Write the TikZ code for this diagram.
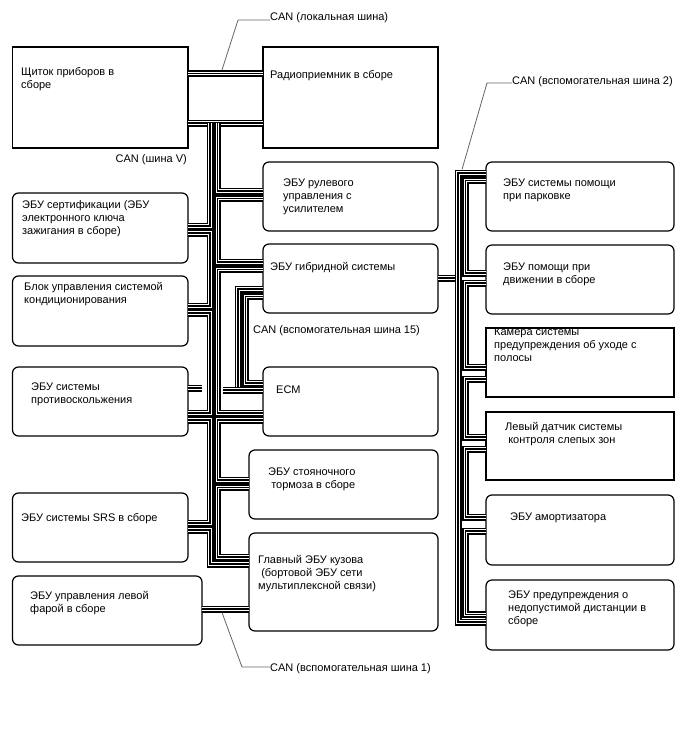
\documentclass[tikz,border=0pt]{standalone}
\usepackage{fontspec}
\setmainfont{Liberation Sans}
\newcommand\lns[1]{\begin{tabular}[t]{@{}l@{}}#1\end{tabular}}
\begin{document}
\begin{tikzpicture}[x=1pt,y=-1pt,
  box/.style={draw=black, line width=1.2pt, rounded corners=6pt, outer sep=0pt, inner sep=0pt, anchor=north west},
  sbox/.style={draw=black, line width=1.2pt, outer sep=0pt, inner sep=0pt, anchor=north west},
  txt/.style={anchor=base west, inner sep=0pt, font=\fontsize{11}{13.2}\selectfont},
  bus/.style={draw=black, line width=1.3pt, preaction={draw=black, line width=7pt}, preaction={draw=white, line width=3.8pt}},
  lead/.style={draw=black!60, line width=0.8pt}]
\fill[white] (0,0) rectangle (688,755);
\useasboundingbox (0,0) rectangle (688,755);

% left column
\node[sbox, minimum width=175.5pt, minimum height=101pt] (cl) at (12.5,47) {};
\node[box, minimum width=175.5pt, minimum height=70pt] (cert) at (12.5,193) {};
\node[box, minimum width=175.5pt, minimum height=70pt] (ac) at (12.5,276) {};
\node[box, minimum width=175.5pt, minimum height=69pt] (abs) at (12.5,367) {};
\node[box, minimum width=175.5pt, minimum height=69pt] (srs) at (12.5,493) {};
\node[box, minimum width=189.5pt, minimum height=69pt] (hl) at (12.5,576) {};
% middle column
\node[sbox, minimum width=175pt, minimum height=101pt] (radio) at (263,47) {};
\node[box, minimum width=175pt, minimum height=69pt] (steer) at (263,162) {};
\node[box, minimum width=175pt, minimum height=69pt] (hyb) at (263,244) {};
\node[box, minimum width=175pt, minimum height=69pt] (ecm) at (263,367) {};
\node[box, minimum width=189pt, minimum height=69pt] (pb) at (249,450) {};
\node[box, minimum width=189pt, minimum height=98pt] (body) at (249,533) {};
% right column
\node[box, minimum width=188pt, minimum height=69pt] (pa) at (486,162) {};
\node[box, minimum width=188pt, minimum height=69pt] (da) at (486,245) {};
\node[sbox, minimum width=188pt, minimum height=69pt] (cam) at (486,328) {};
\node[sbox, minimum width=188pt, minimum height=68pt] (bs) at (486,412) {};
\node[box, minimum width=188pt, minimum height=70pt] (sh) at (486,495) {};
\node[box, minimum width=188pt, minimum height=70pt] (dw) at (486,580) {};

% texts
\node[txt] (tcl) at (21,75) {\lns{Щиток приборов в\\сборе}};
\node[txt] (tcert) at (22,208) {\lns{ЭБУ сертификации (ЭБУ\\электронного ключа\\зажигания в сборе)}};
\node[txt] (tac) at (24,290) {\lns{Блок управления системой\\кондиционирования}};
\node[txt] (tabs) at (31,390) {\lns{ЭБУ системы\\противоскольжения}};
\node[txt] (tsrs) at (21,521) {ЭБУ системы SRS в сборе};
\node[txt] (thl) at (30,599) {\lns{ЭБУ управления левой\\фарой в сборе}};
\node[txt] (tradio) at (270,78) {Радиоприемник в сборе};
\node[txt] (tsteer) at (283,186) {\lns{ЭБУ рулевого\\управления с\\усилителем}};
\node[txt] (thyb) at (270,270) {ЭБУ гибридной системы};
\node[txt] (tecm) at (276,393) {ECM};
\node[txt] (tpb) at (268,475) {\lns{ЭБУ стояночного\\\ тормоза в сборе}};
\node[txt] (tbody) at (258,563) {\lns{Главный ЭБУ кузова\\\ (бортовой ЭБУ сети\\мультиплексной связи)}};
\node[txt] (tpa) at (503,186) {\lns{ЭБУ системы помощи\\при парковке}};
\node[txt] (tda) at (503,270) {\lns{ЭБУ помощи при\\движении в сборе}};
\node[txt] (tcam) at (494,335) {\lns{Камера системы\\предупреждения об уходе с\\полосы}};
\node[txt] (tbs) at (505,430) {\lns{Левый датчик системы\\\ контроля слепых зон}};
\node[txt] (tsh) at (510,520) {ЭБУ амортизатора};
\node[txt] (tdw) at (508,598) {\lns{ЭБУ предупреждения о\\недопустимой дистанции в\\сборе}};

% bus labels
\node[txt, anchor=base east] (lv) at (187,162) {CAN (шина V)};
\node[txt] (l15) at (253,333) {CAN (вспомогательная шина 15)};
\node[txt] (lloc) at (270,20.5) {CAN (локальная шина)};
\node[txt] (l2) at (512,84) {CAN (вспомогательная шина 2)};
\node[txt] (l1) at (270,671) {CAN (вспомогательная шина 1)};

% trunk x positions
\coordinate (TL) at (210,0);
\coordinate (TR) at (217.5,0);
\coordinate (XL) at (458,0);
\coordinate (XR) at (465.5,0);
\coordinate (FA) at (238,0);
\coordinate (FB) at (245.5,0);
\coordinate (GL) at (202,0);
\coordinate (GR) at (223,0);

% local CAN and top of CAN V
\draw[bus] (cl.east |- 0,73.5) -- (radio.west |- 0,73.5);
\draw[bus] (cl.east |- 0,123) -- (radio.west |- 0,123);

% left chain
\draw[bus] (TL |- 0,123) -- (TL |- 0,226) -- (cert.east |- 0,226);
\draw[bus] (cert.east |- 0,233) -- (TL |- 0,233) -- (TL |- 0,306) -- (ac.east |- 0,306);
\draw[bus] (ac.east |- 0,313) -- (TL |- 0,313) -- (TL |- 0,413) -- (abs.east |- 0,413);
\draw[bus] (abs.east |- 0,420) -- (TL |- 0,420) -- (TL |- 0,523) -- (srs.east |- 0,523);
\draw[bus] (srs.east |- 0,530) -- (TL |- 0,530) -- (TL |- 0,564) -- (body.west |- 0,564);
% right chain
\draw[bus] (TR |- 0,123) -- (TR |- 0,191) -- (steer.west |- 0,191);
\draw[bus] (steer.west |- 0,198.5) -- (TR |- 0,198.5) -- (TR |- 0,262) -- (hyb.west |- 0,262);
\draw[bus] (hyb.west |- 0,269.5) -- (TR |- 0,269.5) -- (TR |- 0,413) -- (ecm.west |- 0,413);
\draw[bus] (ecm.west |- 0,420) -- (TR |- 0,420) -- (TR |- 0,480) -- (pb.west |- 0,480);
\draw[bus] (pb.west |- 0,487.5) -- (TR |- 0,487.5) -- (TR |- 0,557) -- (body.west |- 0,557);

% CAN sub-bus 15
\draw[bus] (hyb.west |- 0,289) -- (FA |- 0,289) -- (FA |- 0,390);
\draw[bus] (GR |- 0,390) -- (ecm.west |- 0,390);
\draw[bus] (hyb.west |- 0,296.5) -- (FB |- 0,296.5) -- (FB |- 0,383) -- (ecm.west |- 0,383);
\draw[bus] (abs.east |- 0,388) -- (GL |- 0,388);

% CAN sub-bus 2
\draw[bus] (hyb.east |- 0,278) -- (XL |- 0,278);
\draw[bus] (pa.west |- 0,173) -- (XL |- 0,173) -- (XL |- 0,622) -- (dw.west |- 0,622);
\draw[bus] (pa.west |- 0,180.5) -- (XR |- 0,180.5) -- (XR |- 0,273) -- (da.west |- 0,273);
\draw[bus] (da.west |- 0,283) -- (XR |- 0,283) -- (XR |- 0,367) -- (cam.west |- 0,367);
\draw[bus] (cam.west |- 0,379) -- (XR |- 0,379) -- (XR |- 0,437) -- (bs.west |- 0,437);
\draw[bus] (bs.west |- 0,449) -- (XR |- 0,449) -- (XR |- 0,517) -- (sh.west |- 0,517);
\draw[bus] (sh.west |- 0,531) -- (XR |- 0,531) -- (XR |- 0,614.5) -- (dw.west |- 0,614.5);

% CAN sub-bus 1
\draw[bus] (hl.east |- 0,609) -- (body.west |- 0,609);

% leaders
\coordinate (p1) at (222,70);
\coordinate (p2) at (462,169.5);
\coordinate (p3) at (222,612.5);
\draw[lead] (p1) -- (238,20) -- (lloc.west |- 0,20);
\draw[lead] (p2) -- (487,83) -- (l2.west |- 0,83);
\draw[lead] (p3) -- (242,667) -- (l1.west |- 0,667);
\end{tikzpicture}
\end{document}
